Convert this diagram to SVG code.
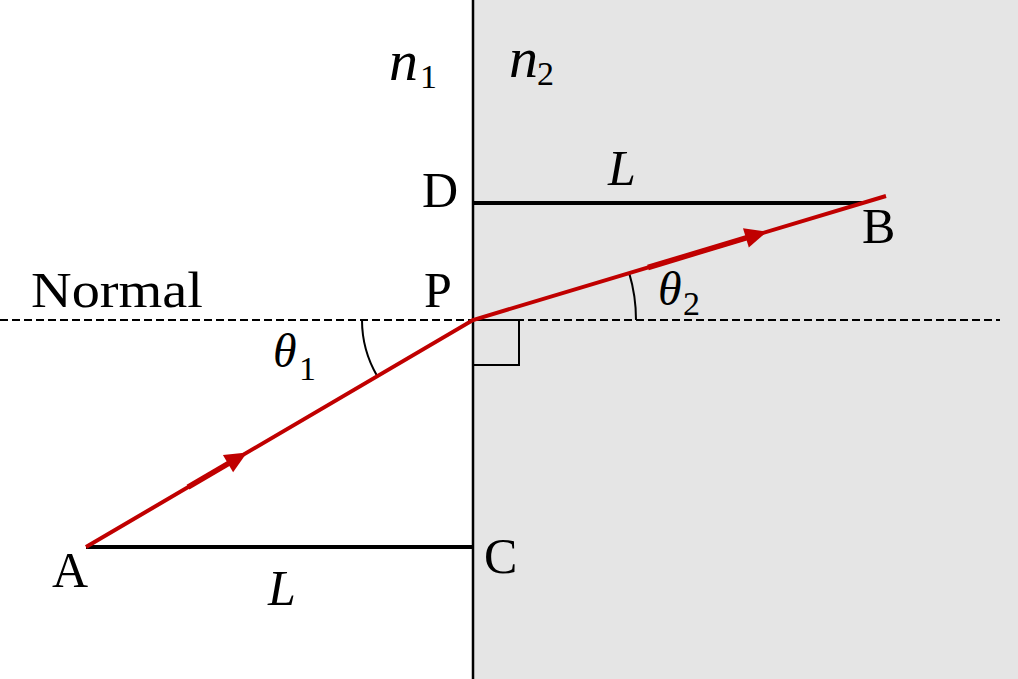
<svg xmlns="http://www.w3.org/2000/svg" width="1018" height="679" viewBox="0 0 1018 679">
<style>
.lbl{font-family:"Liberation Serif","Times New Roman",serif;font-size:50px;fill:#000}
.it{font-family:"Liberation Serif","Times New Roman",serif;font-style:italic;fill:#000}
.sub{font-family:"Liberation Serif","Times New Roman",serif;font-size:34px;fill:#000}
.blk{stroke:#000;fill:none}
.ray{stroke:#c00000;stroke-width:4;fill:none}
.head{fill:#c00000;stroke:none}
</style>
<rect width="1018" height="679" fill="#fff"/>
<g id="medium2">
<rect x="474" y="0" width="544" height="679" fill="#e5e5e5"/>
</g>
<g id="connectors">
<line class="blk" x1="473" y1="0" x2="473" y2="679" stroke-width="2.5"/>
<line class="blk" x1="0" y1="320" x2="1000" y2="320" stroke-width="2" stroke-dasharray="8 4"/>
<line class="blk" x1="86" y1="547" x2="473" y2="547" stroke-width="4"/>
<line class="blk" x1="473" y1="203" x2="862" y2="203" stroke-width="4"/>
<rect class="blk" x="473" y="320" width="46" height="45" stroke-width="2"/>
<path class="blk" d="M362,320 A111,111 0 0 0 377.3,376.2" stroke-width="2"/>
<path class="blk" d="M636,320 A163,163 0 0 0 629.2,273.1" stroke-width="2"/>
<path class="ray" d="M86,547 L473,320 L886,196"/>
<line x1="188" y1="487.1" x2="229" y2="463.1" stroke="#c00000" stroke-width="5.5"/>
<polygon class="head" points="247,452.6 233.1,472.3 222.9,455.1"/>
<line x1="648" y1="267.5" x2="747" y2="237.6" stroke="#c00000" stroke-width="5.5"/>
<polygon class="head" points="767,231.6 748.8,247.5 743,228.3"/>
</g>
<g id="normal"><text class="lbl" x="31" y="307" textLength="172" lengthAdjust="spacingAndGlyphs">Normal</text></g>
<g id="A"><text class="lbl" x="52" y="587">A</text></g>
<g id="B"><text class="lbl" x="862" y="243">B</text></g>
<g id="C"><text class="lbl" x="484" y="573">C</text></g>
<g id="D"><text class="lbl" x="422" y="207">D</text></g>
<g id="P"><text class="lbl" x="424" y="307">P</text></g>
<g id="L-bottom"><text class="it" x="268" y="605" font-size="50">L</text></g>
<g id="L-top"><text class="it" x="608" y="185" font-size="50">L</text></g>
<g id="n1"><text class="it" x="389" y="80" font-size="58">n</text><text class="sub" x="420" y="88">1</text></g>
<g id="n2"><text class="it" x="509" y="77" font-size="58">n</text><text class="sub" x="537" y="85">2</text></g>
<g id="theta1"><text class="it" x="273" y="367" font-size="48">θ</text><text class="sub" x="299" y="380">1</text></g>
<g id="theta2"><text class="it" x="658" y="305" font-size="48">θ</text><text class="sub" x="683" y="315">2</text></g>
</svg>
